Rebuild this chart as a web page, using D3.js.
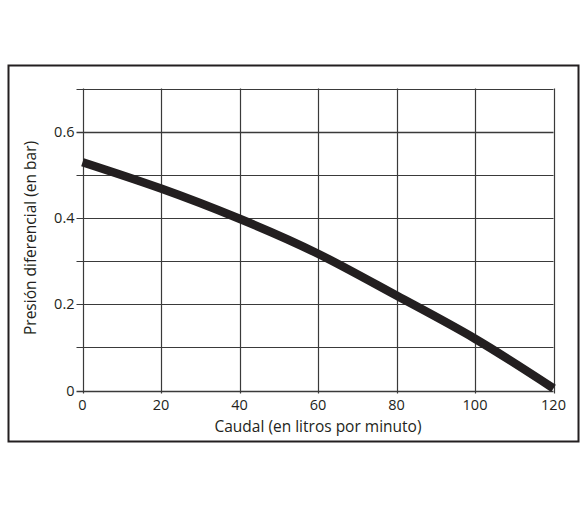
<!DOCTYPE html>
<html>
<head>
<meta charset="utf-8">
<script src="https://cdn.jsdelivr.net/npm/d3@7"></script>
<style>
  body { margin: 0; background: #fff; }
  svg text { font-family: 'Open Sans', 'Noto Sans', sans-serif; fill: #231f20; }
</style>
</head>
<body>
<div id="app"></div>
<script>
(function (d3) {
  'use strict'

  // flow (L/min) and differential pressure (bar)
  const flow = [0, 20, 40, 60, 80, 100, 120]
  const pressure = [0.529, 0.468, 0.398, 0.317, 0.22, 0.12, 0.005]
  const xTicks = [0, 20, 40, 60, 80, 100, 120]
  const yGrid = [0, 0.1, 0.2, 0.3, 0.4, 0.5, 0.6, 0.7]
  const yLabels = [0, 0.2, 0.4, 0.6]

  const w = 588
  const h = 506

  const svg = d3.select('#app')
    .append('svg')
    .attr('width', w)
    .attr('height', h)

  // outer frame
  svg.append('rect')
    .attr('x', 8.5)
    .attr('y', 65.5)
    .attr('width', 570)
    .attr('height', 376)
    .attr('fill', 'none')
    .attr('stroke', '#231f20')
    .attr('stroke-width', 2)

  const xScale = d3.scaleLinear()
    .domain([0, 120])
    .range([82.5, 553.5])
  const yScale = d3.scaleLinear()
    .domain([0, 0.7])
    .range([390.5, 88.5])

  // horizontal grid lines with a short tick out to the left
  svg.append('g')
    .selectAll('line')
    .data(yGrid)
    .enter()
    .append('line')
    .attr('x1', xScale(0) - 6)
    .attr('x2', xScale(120))
    .attr('y1', d => Math.round(yScale(d)) + 0.5)
    .attr('y2', d => Math.round(yScale(d)) + 0.5)
    .attr('stroke', '#3a3a3a')
    .attr('stroke-width', d => (d === 0.6 || d === 0) ? 1.6 : 1.2)

  // vertical grid lines with a short tick below
  svg.append('g')
    .selectAll('line')
    .data(xTicks)
    .enter()
    .append('line')
    .attr('x1', d => Math.round(xScale(d)) + 0.5)
    .attr('x2', d => Math.round(xScale(d)) + 0.5)
    .attr('y1', yScale(0.7))
    .attr('y2', yScale(0) + 3)
    .attr('stroke', '#3a3a3a')
    .attr('stroke-width', 1.2)

  // y tick labels
  svg.append('g')
    .selectAll('text')
    .data(yLabels)
    .enter()
    .append('text')
    .attr('x', xScale(0) - 8)
    .attr('y', d => yScale(d) + 5)
    .attr('text-anchor', 'end')
    .style('font-size', '14.5px')
    .text(d => d === 0 ? '0' : d3.format('.1f')(d))

  // x tick labels
  svg.append('g')
    .selectAll('text')
    .data(xTicks)
    .enter()
    .append('text')
    .attr('x', d => xScale(d))
    .attr('y', 410)
    .attr('text-anchor', 'middle')
    .style('font-size', '14.5px')
    .text(d => d)

  // the curve
  const line = d3.line()
    .x((d, i) => xScale(d))
    .y((d, i) => yScale(pressure[i]))
    .curve(d3.curveNatural)

  svg.append('path')
    .attr('d', line(flow))
    .attr('fill', 'none')
    .attr('stroke', '#231f20')
    .attr('stroke-width', 8.5)

  // axis titles
  svg.append('text')
    .attr('x', (xScale(0) + xScale(120)) / 2)
    .attr('y', 432)
    .attr('text-anchor', 'middle')
    .style('font-size', '15.5px')
    .text('Caudal (en litros por minuto)')

  svg.append('text')
    .attr('transform', 'translate(36,238) rotate(-90)')
    .attr('text-anchor', 'middle')
    .style('font-size', '15.5px')
    .text('Presión diferencial (en bar)')
}(d3))
</script>
</body>
</html>
